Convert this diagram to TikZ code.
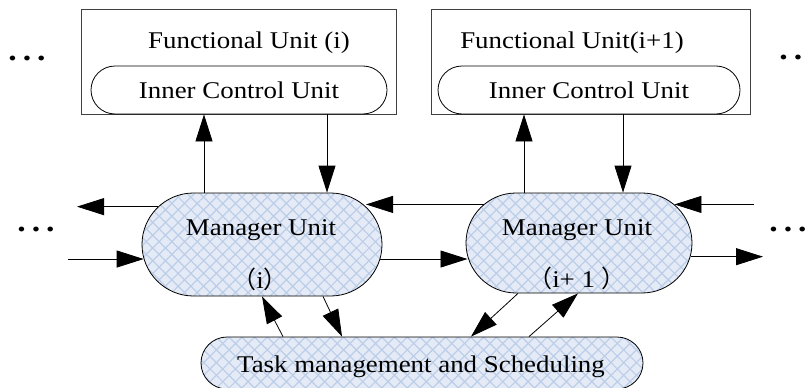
\documentclass[tikz,border=0pt]{standalone}
\usepackage{fontspec}
\setmainfont{Liberation Serif}[FakeStretch=1.12]
\newfontfamily\cjk{Noto Sans CJK SC}
\usetikzlibrary{shapes.misc,arrows.meta,patterns.meta}

\definecolor{pillfill}{HTML}{E4EBF6}
\definecolor{hatch}{HTML}{BCCDE8}
\definecolor{boxline}{HTML}{404040}

\newcommand{\contdots}{{\bfseries .\hspace{6pt}.\hspace{6pt}.}}

\tikzset{
  lbl/.style={font=\fontsize{24}{28}\selectfont, inner sep=0pt, anchor=base},
  dots/.style={font=\fontsize{30}{34}\selectfont, inner sep=0pt},
  funcbox/.style={draw=boxline, line width=0.9pt, rectangle, minimum height=105pt, inner sep=0pt},
  innerpill/.style={draw, rounded rectangle, line width=0.8pt, minimum height=48pt, inner sep=0pt},
  mgrpill/.style={draw, rounded rectangle, line width=0.8pt, inner sep=0pt,
    preaction={fill=pillfill},
    preaction={pattern={Lines[angle=45,distance=9pt,line width=1.2pt]}, pattern color=hatch},
    preaction={pattern={Lines[angle=-45,distance=9pt,line width=1.2pt]}, pattern color=hatch}},
  arr/.style={line width=0.8pt, -{Triangle[length=27pt,width=17pt]}},
}

\begin{document}
\begin{tikzpicture}[x=1pt, y=-1pt]
\useasboundingbox (0,0) rectangle (806,388);

% functional units with their inner control units
\node[funcbox, minimum width=315pt] (F1) at (238.5,61.5) {};
\node[funcbox, minimum width=319pt] (F2) at (590.5,61.5) {};
\node[innerpill, minimum width=296pt] (I1) at (239,90) {};
\node[innerpill, minimum width=302pt] (I2) at (589,90) {};
\node[lbl] (F1t) at (249,48) {Functional Unit (i)};
\node[lbl] (F2t) at (572,48) {Functional Unit(i+1)};
\node[lbl] (I1t) at (239,98) {Inner Control Unit};
\node[lbl] (I2t) at (589,98) {Inner Control Unit};

% manager units and the scheduler
\node[mgrpill, minimum width=240pt, minimum height=103pt] (M1) at (262,244.5) {};
\node[mgrpill, minimum width=226pt, minimum height=100pt] (M2) at (579,243) {};
\node[mgrpill, minimum width=442pt, minimum height=52pt] (T) at (422,363) {};
\node[lbl] (M1a) at (261,235) {Manager Unit};
\node[lbl] (M1b) at (260,288) {{\cjk （}i{\cjk ）}};
\node[lbl] (M2a) at (577,235) {Manager Unit};
\node[lbl] (M2b) at (577,287) {{\cjk （}i+ 1 {\cjk ）}};
\node[lbl] (Tt) at (421,372) {Task management and Scheduling};

% continuation marks
\node[dots] (d1) at (27,58) {\contdots};
\node[dots] (d2) at (798,57) {\contdots};
\node[dots] (d3) at (36,229) {\contdots};
\node[dots] (d4) at (788,229) {\contdots};

% free ends of the outer links
\coordinate (LeftTip) at (77,206);
\coordinate (LeftTail) at (68,258);
\coordinate (RightTail) at (754,206);
\coordinate (RightTip) at (763,258);

% manager <-> functional unit
\draw[arr] ([xshift=-58pt]M1.north) -- ([xshift=-35pt]I1.south);
\draw[arr] ([xshift=88pt]I1.south) -- ([xshift=65pt]M1.north);
\draw[arr] ([xshift=-55pt]M2.north) -- ([xshift=-65pt]I2.south);
\draw[arr] ([xshift=34pt]I2.south) -- ([xshift=44pt]M2.north);

% links along the chain of managers
\draw[arr] (M1.160) -- (LeftTip |- M1.160);
\draw[arr] (LeftTail |- M1.187) -- (M1.187);
\draw[arr] (M2.158) -- (M1.20 |- M2.158);
\draw[arr] (M1.353) -- (M2.187 |- M1.353);
\draw[arr] (RightTail |- M2.22) -- (M2.22);
\draw[arr] (M2.353) -- (RightTip |- M2.353);

% manager <-> task management
\draw[arr] ([xshift=-139pt]T.north) -- (M1.south);
\draw[arr] ([xshift=61pt]M1.south) -- ([xshift=-80pt]T.north);
\draw[arr] ([xshift=-61pt]M2.south) -- ([xshift=49pt]T.north);
\draw[arr] ([xshift=107pt]T.north) -- ([xshift=-1pt]M2.south);
\end{tikzpicture}
\end{document}
